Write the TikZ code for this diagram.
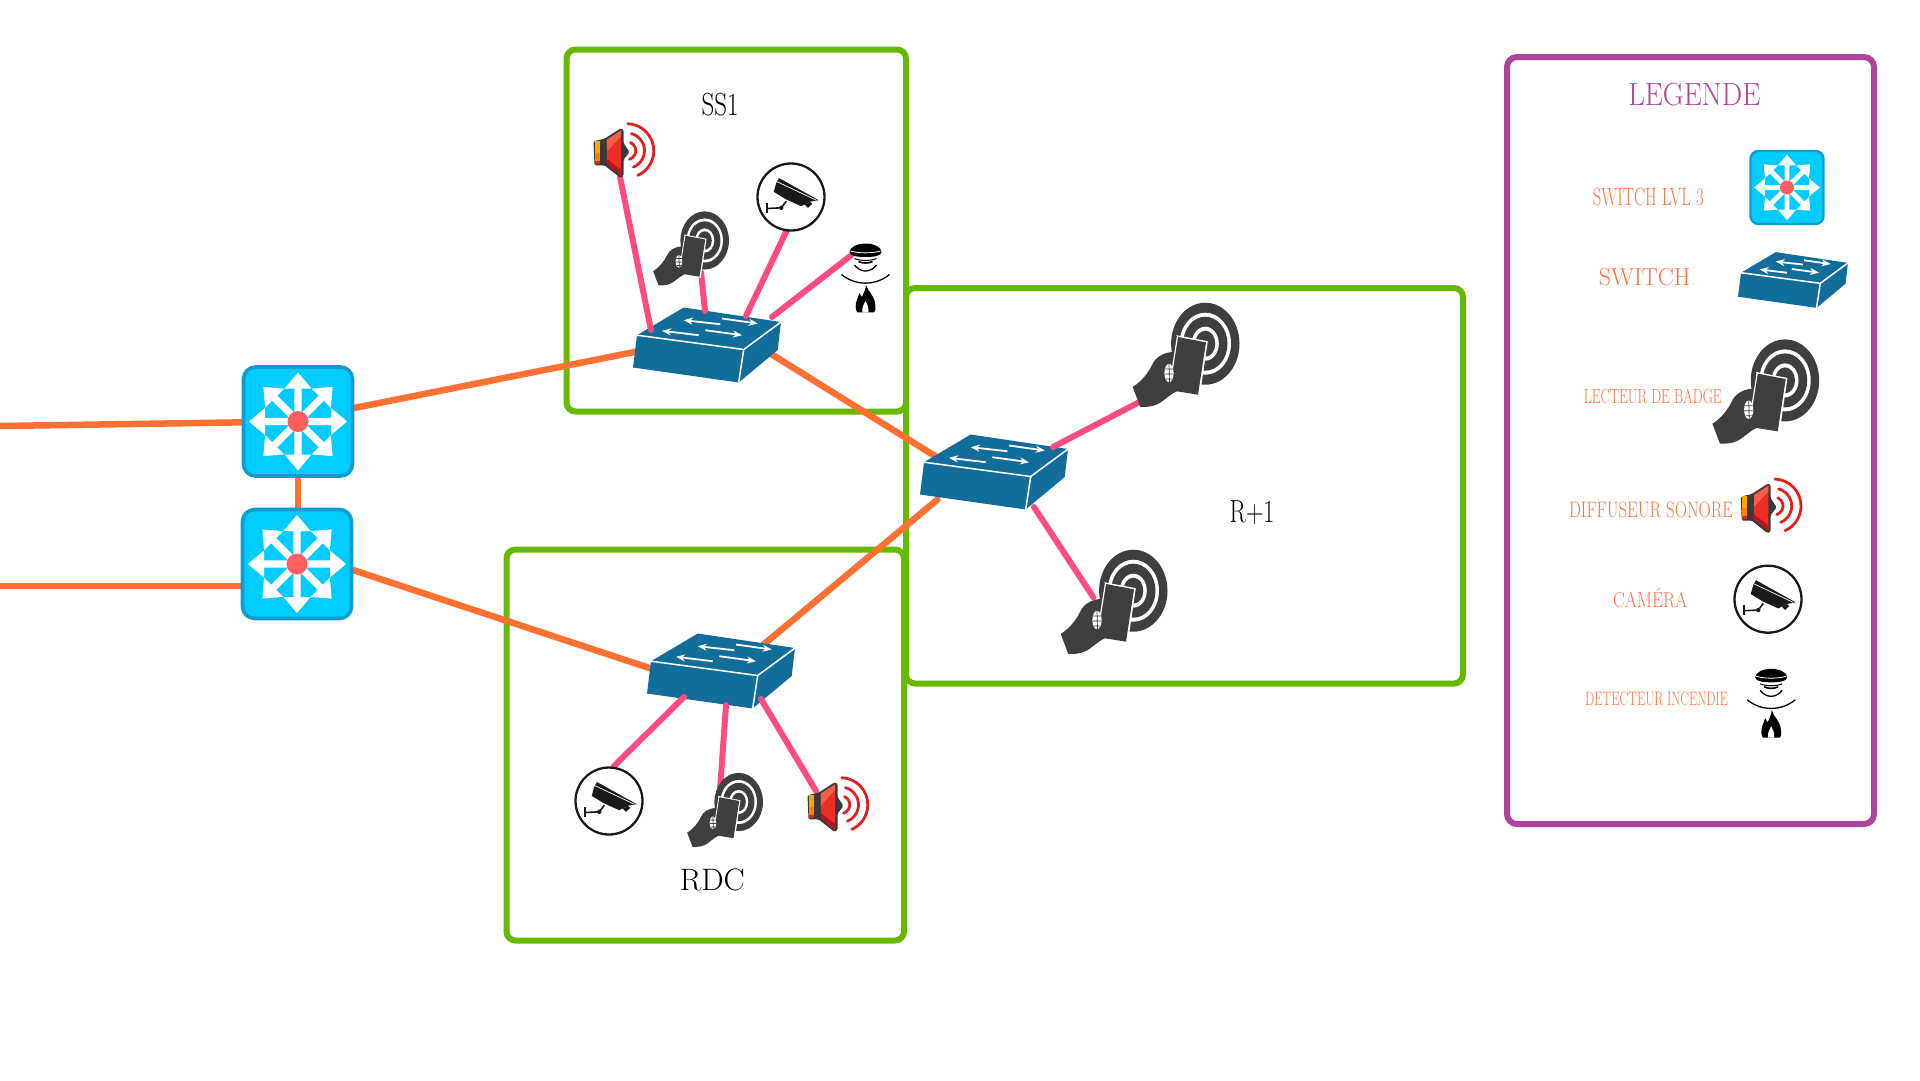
\documentclass[tikz,border=0pt]{standalone}
\usepackage{xcolor}
\usepackage{tikz}
\usetikzlibrary{arrows.meta,positioning}
\definecolor{boxgreen}{HTML}{66B800}
\definecolor{legendpurple}{HTML}{B0439B}
\definecolor{linkorange}{HTML}{FF7033}
\definecolor{linkpink}{HTML}{FF4C80}
\definecolor{labelorange}{HTML}{FF7040}
\definecolor{hubcyan}{HTML}{00CCFF}
\definecolor{hubedge}{HTML}{0F9DD0}
\definecolor{hubred}{HTML}{FF5F5F}
\definecolor{swblue}{HTML}{126D9B}
\definecolor{readergray}{HTML}{3F3F3F}
\definecolor{camink}{HTML}{1A1A1A}
\definecolor{spkred}{HTML}{EE2E24}
\definecolor{spklight}{HTML}{F2604A}
\definecolor{spkdark}{HTML}{B5161C}
\definecolor{spkarc}{HTML}{E0201F}
\definecolor{spkback}{HTML}{3A3A3C}
\tikzset{
  zonebox/.style={draw=boxgreen, line width=6pt, rounded corners=9pt},
  legendbox/.style={draw=legendpurple, line width=6pt, rounded corners=10pt},
  uplink/.style={draw=linkorange, line width=6.5pt, line cap=round},
  edgelink/.style={draw=linkpink, line width=6pt, line cap=round},
  anchorbox/.style 2 args={inner sep=0pt, minimum width=#1, minimum height=#2},
  zonelab/.style 2 args={text=black, inner sep=0pt, font=\fontsize{#1}{#1}\selectfont, xscale=#2, transform shape},
  legendlab/.style 2 args={text=labelorange, inner sep=0pt, font=\fontsize{#1}{#1}\selectfont, xscale=#2, transform shape},
  pics/routericon/.style={code={
    \draw[fill=hubcyan, draw=hubedge, line width=#1*0.3, rounded corners=#1] (-54.5,-54.5) rectangle (54.5,54.5);
    \foreach \ang in {0,45,...,315}
      \fill[white, rotate=\ang] (0,-49) -- (13.5,-33) -- (3.7,-33) -- (3.7,0) -- (-3.7,0) -- (-3.7,-33) -- (-13.5,-33) -- cycle;
    \fill[hubred] (0,0) circle [radius=10.5];
  }},
  pics/switchicon/.style={code={
    \fill[swblue] (-23.3,-37.5) -- (74,-23) -- (36.7,4.5) -- (-70,-9.8) -- cycle;
    \fill[swblue] (-70,-9.8) -- (36.7,4.5) -- (31.7,37.5) -- (-74,22.5) -- cycle;
    \fill[swblue] (36.7,4.5) -- (74,-23) -- (70.7,5) -- (31.7,37.5) -- cycle;
    \draw[white, line width=1.5pt] (-70,-9.8) -- (36.7,4.5) -- (74,-23);
    \draw[white, line width=1.5pt] (36.7,4.5) -- (31.7,37.5);
    \draw[white, line width=1.8pt, -{Stealth[length=9pt,width=7pt]}] (13.3,-20.8) -- (-23.3,-24.8);
    \draw[white, line width=1.8pt, -{Stealth[length=9pt,width=7pt]}] (15,-26.5) -- (50.7,-21.5);
    \draw[white, line width=1.8pt, -{Stealth[length=9pt,width=7pt]}] (-8.3,-9.8) -- (-45,-14.2);
    \draw[white, line width=1.8pt, -{Stealth[length=9pt,width=7pt]}] (-1.7,-14.8) -- (35,-9.8);
  }},
  pics/readericon/.style={code={
    \fill[readergray] (19.3,-11.3) ellipse [x radius=34.2, y radius=41];
    \fill[white] (19.3,-11.3) ellipse [x radius=25.7, y radius=31];
    \fill[readergray] (19.3,-11.3) ellipse [x radius=22.2, y radius=27];
    \fill[white] (19.3,-11.3) ellipse [x radius=13.5, y radius=17];
    \fill[readergray] (19.3,-11.3) ellipse [x radius=10, y radius=13];
    \fill[white] (-9.6,-19.8) -- (21.8,-13.8) -- (13.8,41) -- (8,41) -- cycle;
    \fill[readergray] (-53.3,32) .. controls (-44,26) and (-38,18) .. (-34,10) .. controls (-31,3) and (-24,-2) .. (-14,-3) -- (-8,-18) -- (20,-12.7) -- (12,39.7) -- (-9,36.3) .. controls (-16,39) and (-22,46) .. (-28,49) .. controls (-34,52) and (-40,52) .. (-45.7,52) -- cycle;
    \fill[white] (-8,-18) -- (-9.2,-18.2) -- (-16,24.7) -- (-14.8,24.7) -- cycle;
    \fill[white] (-17,18) ellipse [x radius=4.6, y radius=9.2];
    \draw[readergray, line width=0.7pt] (-21,14) -- (-13,14) (-21.5,19) -- (-13,19) (-20,24) -- (-14,24) (-17,9) -- (-16.5,27);
  }},
  pics/speakericon/.style={code={
    \fill[spkback, rounded corners=1.5pt] (-30.5,-9.7) -- (-19.5,-12.3) -- (-2.8,-23) -- (-0.5,-21.3) -- (-0.5,-8) -- (5.5,1) -- (-0.5,8.7) -- (-0.5,25.3) -- (-3.5,27) -- (-19.5,14.3) -- (-29.5,14.3) -- cycle;
    \fill[spkred] (-17.2,-11.3) -- (-2.8,-20.7) -- (-2.8,24.7) -- (-17.2,12.7) -- cycle;
    \fill[spklight] (-17.2,-11.3) -- (-2.8,-20.7) -- (-2.8,-15) -- (-17.2,0.5) -- cycle;
    \fill[spkdark] (-17.2,8) -- (-2.8,19) -- (-2.8,24.7) -- (-17.2,12.7) -- cycle;
    \fill[orange!70!yellow] (-28.8,-10.3) rectangle (-24.3,2);
    \fill[orange] (-28.8,2) rectangle (-24.3,9.5);
    \fill[spkred!90!black] (-28.8,9.5) rectangle (-24.3,13);
    \draw[spkarc, line width=2.8pt, line cap=round] (2.8,-0.3) ++(-66:9) arc [start angle=-66, end angle=73, radius=9];
    \draw[spkarc, line width=2.8pt, line cap=round] (2.8,-0.3) ++(-75:17.7) arc [start angle=-75, end angle=68, radius=17.7];
    \draw[spkarc, line width=2.8pt, line cap=round] (2.8,-0.3) ++(-88:27) arc [start angle=-88, end angle=66, radius=27];
  }},
  pics/cameraicon/.style={code={
    \draw[camink, fill=white, line width=2.3pt] (0,0) circle [radius=33.5];
    \fill[camink] (-12,-19) -- (27.7,3.2) -- (18.7,4.8) -- (10.3,9.2) -- (-4.7,2.5) -- (-17.3,-5.2) -- (-14.7,-14.2) -- cycle;
    \draw[white, line width=0.7pt] (-13.7,-15.2) -- (25.3,3.2);
    \fill[camink] (13.7,7.5) -- (18.7,4.8) -- (21.3,6.8) -- (17,10.8) -- cycle;
    \draw[camink, line width=2pt] (-23.7,5.8) -- (-23.7,15.8);
    \draw[camink, line width=1.6pt] (-23.7,11.5) -- (-9.7,10.8) -- (-4.7,4.2);
    \fill[camink] (-9.7,10.8) circle [radius=2.2];
  }},
  pics/detectoricon/.style={code={
    \fill[black] (-16,-26) .. controls (-16,-31) and (-8,-34.5) .. (0,-34.5) .. controls (8,-34.5) and (16,-31) .. (16,-26) .. controls (16,-22) and (8,-21) .. (0,-21) .. controls (-8,-21) and (-16,-22) .. (-16,-26) -- cycle;
    \draw[white, line width=0.8pt] (-15,-27) .. controls (-6,-24.5) and (6,-24.5) .. (15,-27);
    \draw[black, line width=1pt] (-11,-19.5) .. controls (-6,-17) and (6,-17) .. (11,-19.5);
    \draw[black, line width=1.6pt] (-7,-16.5) .. controls (-3,-14.5) and (3,-14.5) .. (7,-16.5);
    \draw[black, line width=1.3pt] (-11,-13) .. controls (-5,-5) and (5,-5) .. (11,-13);
    \draw[black, line width=1.3pt] (-24,-3.5) .. controls (-10,8) and (10,8) .. (24,-3.5);
    \fill[black] (0.5,6.7) .. controls (2,14) and (10,17) .. (10,30) .. controls (10,32) and (9.5,33.5) .. (8.5,34.3) -- (-8.5,34.3) .. controls (-10,32) and (-10,29) .. (-9.5,25) .. controls (-8.5,21) and (-7,18) .. (-6,15) .. controls (-5,17) and (-4.5,18) .. (-3.5,19) .. controls (-2,15) and (0.5,11) .. (0.5,6.7) -- cycle;
    \fill[white] (0,23) .. controls (1,26) and (3.5,28) .. (3,34.3) -- (-3,34.3) .. controls (-4,30) and (-2,27) .. (0,23) -- cycle;
  }},
}
\begin{document}
\begin{tikzpicture}[x=1pt, y=-1pt]
  \useasboundingbox (0,0) rectangle (1920,1080);
  \coordinate (wanA) at (0,426);
  \coordinate (wanB) at (0,586);

  \draw[zonebox] (566.5,49.5) rectangle (906,411.5);
  \draw[zonebox] (906,288) rectangle (1463,683.5);
  \draw[zonebox] (506.5,549.5) rectangle (904,940.5);
  \draw[legendbox] (1507,57) rectangle (1874,824);

  \node (rt1) at (298,421.5) [anchorbox={112pt}{112pt}] {};
  \node (rt2) at (297,564) [anchorbox={112pt}{112pt}] {};
  \node (swss) at (707,345) [anchorbox={148pt}{75pt}] {};
  \node (swr1) at (994,472) [anchorbox={148pt}{75pt}] {};
  \node (swrd) at (721,671) [anchorbox={148pt}{75pt}] {};
  \node (spkss) at (624,151) [anchorbox={61pt}{54pt}] {};
  \node (rdss) at (691,248.5) [anchorbox={76pt}{74pt}] {};
  \node (camss) at (791,197) [anchorbox={70pt}{70pt}] {};
  \node (detss) at (865.5,278) [anchorbox={48pt}{69pt}] {};
  \node (rdtop) at (1186,355) [anchorbox={107pt}{104pt}] {};
  \node (rdbot) at (1114,602) [anchorbox={107pt}{104pt}] {};
  \node (camrd) at (609,801) [anchorbox={70pt}{70pt}] {};
  \node (rdrd) at (725,810) [anchorbox={76pt}{74pt}] {};
  \node (spkrd) at (838,805) [anchorbox={61pt}{54pt}] {};

  \draw[uplink] (wanA) -- (rt1.center);
  \draw[uplink] (wanB) -- (wanB -| rt2.center);
  \draw[uplink] (rt1.center |- rt1.south) -- (rt1.center |- rt2.north);
  \draw[uplink] ([shift={(56,-13.5)}]rt1.center) -- ([shift={(-60,4.5)}]swss.center);
  \draw[uplink] ([shift={(56,6)}]rt2.center) -- ([shift={(-61,0.5)}]swrd.center);
  \draw[uplink] ([shift={(53,2)}]swss.center) -- ([shift={(-51,-11)}]swr1.center);
  \draw[uplink] ([shift={(36,-21)}]swrd.center) -- ([shift={(-56.5,27.5)}]swr1.center);

  \pic at (rt1) {routericon=12pt};
  \pic at (rt2) {routericon=12pt};
  \pic at (swss) {switchicon};
  \pic at (swr1) {switchicon};
  \pic at (swrd) {switchicon};

  \draw[edgelink] ([shift={(-56,-15)}]swss.center) -- ([shift={(-4,26)}]spkss.center);
  \draw[edgelink] ([shift={(-2,-34)}]swss.center) -- ([shift={(10,23.5)}]rdss.center);
  \draw[edgelink] ([shift={(39,-29)}]swss.center) -- ([shift={(-4,33)}]camss.center);
  \draw[edgelink] ([shift={(65,-28)}]swss.center) -- ([shift={(-14,-23)}]detss.center);
  \draw[edgelink] ([shift={(59,-25)}]swr1.center) -- ([shift={(-47.5,47.5)}]rdtop.center);
  \draw[edgelink] ([shift={(40,35)}]swr1.center) -- ([shift={(-20.5,-4.5)}]rdbot.center);
  \draw[edgelink] ([shift={(-37,26)}]swrd.center) -- ([shift={(5,-35)}]camrd.center);
  \draw[edgelink] ([shift={(5,34)}]swrd.center) -- ([shift={(-5,-20)}]rdrd.center);
  \draw[edgelink] ([shift={(40,28)}]swrd.center) -- ([shift={(-22,-14)}]spkrd.center);

  \pic at (spkss) {speakericon};
  \pic[scale=.71] at (rdss) {readericon};
  \pic at (camss) {cameraicon};
  \pic at (detss) {detectoricon};
  \pic at (rdtop) {readericon};
  \pic at (rdbot) {readericon};
  \pic at (camrd) {cameraicon};
  \pic[scale=.71] at (rdrd) {readericon};
  \pic at (spkrd) {speakericon};

  \node (labss) at (720,105) [zonelab={32}{.78}] {SS1};
  \node (labr1) at (1252,512.5) [zonelab={32}{.75}] {R+1};
  \node (labrd) at (712.3,880) [zonelab={31}{1.02}] {RDC};

  \node (labtitle) at (1694.3,94.3) [legendlab={32}{.90}, text=legendpurple] {LEGENDE};
  \node (labhub) at (1648.3,196.7) [legendlab={25}{.67}] {SWITCH LVL 3};
  \node (keyhub) at (1787,187.5) [anchorbox={75pt}{75pt}] {};
  \pic[scale=.67] at (keyhub) {routericon=8pt};
  \node (labsw) at (1644.7,276.7) [legendlab={24.5}{.98}] {SWITCH};
  \node (keysw) at (1793,280) [anchorbox={110pt}{55pt}] {};
  \pic[scale=.743] at (keysw) {switchicon};
  \node (labrd2) at (1652.7,396.3) [legendlab={20.5}{.68}] {LECTEUR DE BADGE};
  \node (keyrd) at (1765.7,391.7) [anchorbox={107pt}{104pt}] {};
  \pic at (keyrd) {readericon};
  \node (labspk) at (1651,510) [legendlab={22.4}{.755}] {DIFFUSEUR SONORE};
  \node (keyspk) at (1771.2,506.3) [anchorbox={61pt}{54pt}] {};
  \pic at (keyspk) {speakericon};
  \node (labcam) at (1650.3,598) [legendlab={21.5}{.82}] {CAMÉRA};
  \node (keycam) at (1768,599.2) [anchorbox={70pt}{70pt}] {};
  \pic at (keycam) {cameraicon};
  \node (labdet) at (1656.7,699) [legendlab={19.5}{.67}] {DETECTEUR INCENDIE};
  \node (keydet) at (1771.2,703.3) [anchorbox={48pt}{69pt}] {};
  \pic at (keydet) {detectoricon};
\end{tikzpicture}
\end{document}
